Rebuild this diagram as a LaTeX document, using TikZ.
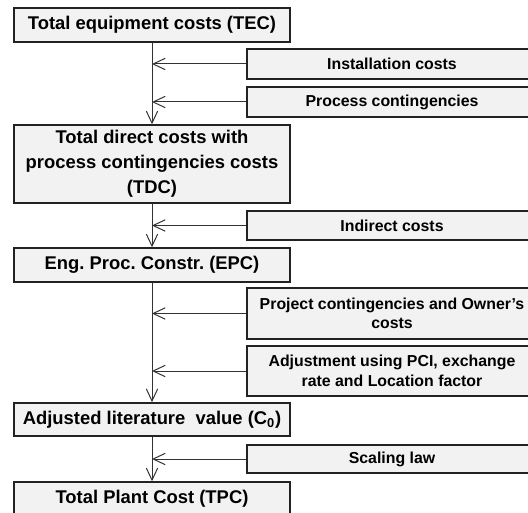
\documentclass[tikz,border=0pt]{standalone}
\usepackage{fontspec}
\setmainfont{Liberation Sans}
\usetikzlibrary{arrows.meta}

\tikzset{every picture/.style={line width=0.75pt}}
\tikzset{
	costbox/.style={draw={rgb, 255:red, 34; green, 34; blue, 34 }, line width=1.1pt, fill={rgb, 255:red, 242; green, 242; blue, 242 }, minimum width=207pt, align=center, inner sep=0pt, font=\fontsize{13.8}{18.75}\selectfont\bfseries\frenchspacing},
	addbox/.style={draw={rgb, 255:red, 34; green, 34; blue, 34 }, line width=1.1pt, fill={rgb, 255:red, 242; green, 242; blue, 242 }, minimum width=217.5pt, align=center, inner sep=0pt, font=\fontsize{11.9}{14.6}\selectfont\bfseries\frenchspacing},
	feed/.style={draw={rgb, 255:red, 51; green, 51; blue, 51 }, line width=0.75pt, -{Straight Barb[length=9pt,width=8.5pt]}}
}

\begin{document}
\begin{tikzpicture}[x=0.75pt,y=0.75pt,yscale=-1,xscale=1]
	\useasboundingbox (0,0) rectangle (528,513);
	\clip (0,0) rectangle (528,513);
	
	% Main cost chain
	\node [costbox, minimum height=25.5pt] (tec) at (152,25) {Total equipment costs (TEC)};
	\node [costbox, minimum height=58.5pt] (tdc) at (152,164) {Total direct costs with\\ process contingencies costs\\ (TDC)};
	\node [costbox, minimum height=25.5pt] (epc) at (152,265) {Eng. Proc. Constr. (EPC)};
	\node [costbox, minimum height=25pt] (czero) at (152,419.5) {Adjusted literature~ value (C\textsubscript{0})};
	\node [costbox, minimum height=25.5pt] (tpc) at (152,499) {Total Plant Cost (TPC)};
	
	% Added items
	\node [addbox, minimum height=22.5pt] (install) at (392,64) {Installation costs};
	\node [addbox, minimum height=22.5pt] (proccont) at (392,102) {Process contingencies};
	\node [addbox, minimum height=22pt] (indirect) at (392,225.5) {Indirect costs};
	\node [addbox, minimum height=38pt] (projcont) at (392,313.5) {Project contingencies and Owner’s\\ costs};
	\node [addbox, minimum height=37.5pt] (adjust) at (392,371) {Adjustment using PCI, exchange\\ rate and Location factor};
	\node [addbox, minimum height=21pt] (scaling) at (392,459) {Scaling law};
	
	% Vertical flow
	\draw [feed] (tec) -- (tdc);
	\draw [feed] (tdc) -- (epc);
	\draw [feed] (epc) -- (czero);
	\draw [feed] (czero) -- (tpc);
	
	% Side inputs
	\draw [feed] (install.west) -- (install.west -| tec.south);
	\draw [feed] (proccont.west) -- (proccont.west -| tec.south);
	\draw [feed] (indirect.west) -- (indirect.west -| tdc.south);
	\draw [feed] (projcont.west) -- (projcont.west -| epc.south);
	\draw [feed] (adjust.west) -- (adjust.west -| epc.south);
	\draw [feed] (scaling.west) -- (scaling.west -| czero.south);
	
\end{tikzpicture}
\end{document}
